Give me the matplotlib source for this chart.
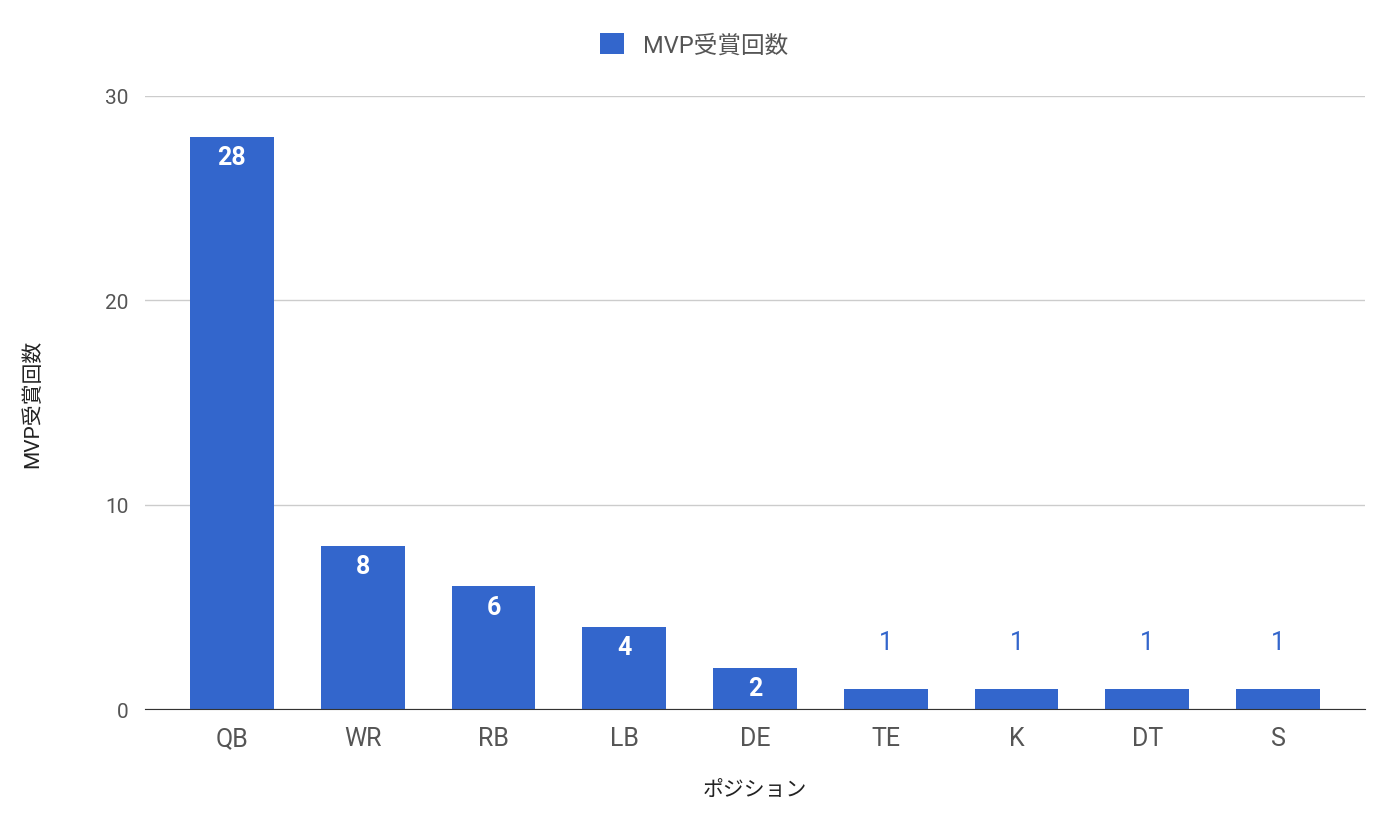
import matplotlib
matplotlib.use("Agg")
import matplotlib.pyplot as plt

categories = ["QB", "WR", "RB", "LB", "DE", "TE", "K", "DT", "S"]
values = [28, 8, 6, 4, 2, 1, 1, 1, 1]
yticks = [0, 10, 20, 30]
series_name = "MVP受賞回数"

plt.rcParams["font.family"] = ["Roboto", "Noto Sans CJK JP"]
color = "#3366CC"
fig = plt.figure(figsize=(13.88, 8.28), dpi=100)
ax = fig.add_axes([0.1045, 0.1425, 0.8789, 0.7404])
x = range(len(categories))
ax.bar(x, values, width=0.64, color=color, label=series_name, zorder=3)
for i, v in zip(x, values):
    if v >= 2:
        ax.text(i, v - 0.4, str(v), ha="center", va="top", color="white",
                fontsize=18, fontweight="bold", zorder=4)
    else:
        ax.text(i, v + 1.7, str(v), ha="center", va="bottom", color=color,
                fontsize=18, zorder=4)
ax.set_xlim(-0.664, len(categories) - 1 + 0.664)
ax.set_ylim(0, 30)
ax.set_yticks(yticks)
ax.set_xticks(list(x))
ax.set_xticklabels(categories, fontsize=18, color="#555555")
ax.tick_params(axis="y", labelsize=15, labelcolor="#555555", length=0, pad=12)
ax.tick_params(axis="x", length=0, pad=12)
ax.grid(axis="y", color="#cccccc", linewidth=1, zorder=0)
for s in ["top", "right", "left"]:
    ax.spines[s].set_visible(False)
ax.spines["bottom"].set_color("#333333")
ax.spines["bottom"].set_zorder(5)
ax.set_xlabel("ポジション", fontsize=15, color="#222222", labelpad=22)
ax.set_ylabel(series_name, fontsize=15, color="#222222", labelpad=45)
fig.legend(loc="upper center", bbox_to_anchor=(0.5, 0.985), frameon=False,
           fontsize=17, labelcolor="#555555", handlelength=1, handleheight=1)
fig.savefig("out.png", dpi=100)
